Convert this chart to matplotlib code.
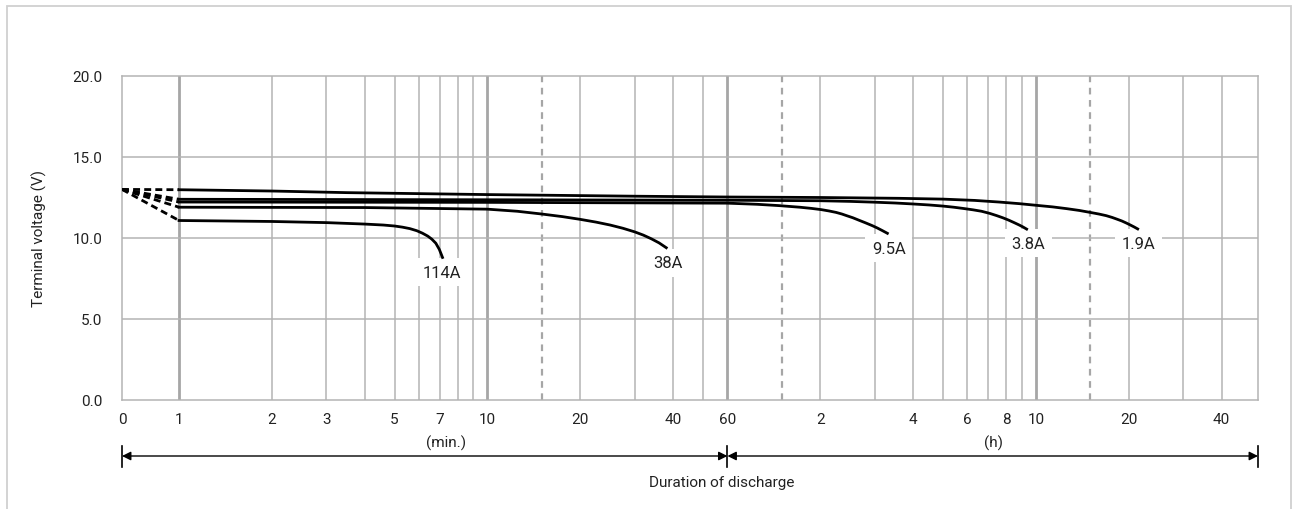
import numpy as np
import matplotlib.pyplot as plt
from matplotlib.patches import Rectangle
from matplotlib.transforms import blended_transform_factory

plt.rcParams['font.family'] = ['Roboto', 'DejaVu Sans']

# discharge curves, time in minutes, voltage in V
t_19 = [1, 2, 3.5, 10, 30, 60, 120, 216, 300, 380, 456, 530, 600, 680, 756, 830,
        900, 960, 1014, 1060, 1100, 1140, 1180, 1215, 1250, 1283]
v_19 = [12.98, 12.9, 12.8, 12.68, 12.58, 12.53, 12.5, 12.45, 12.4, 12.32, 12.22, 12.12,
        12.02, 11.92, 11.81, 11.7, 11.58, 11.48, 11.38, 11.27, 11.16, 11.05, 10.92,
        10.8, 10.68, 10.56]
t_38 = [1, 10, 60, 120, 150, 180, 210, 240, 270, 300, 325, 347, 375, 400, 425, 448,
        470, 490, 510, 530, 545, 560]
v_38 = [12.39, 12.36, 12.33, 12.3, 12.26, 12.21, 12.16, 12.1, 12.04, 11.97, 11.9, 11.83,
        11.74, 11.65, 11.52, 11.38, 11.24, 11.1, 10.95, 10.8, 10.68, 10.55]
t_95 = [1, 10, 60, 75, 88, 103, 112, 121, 128, 135, 141, 146, 153, 160, 168, 177,
        184, 191, 198]
v_95 = [12.22, 12.2, 12.15, 12.08, 12.0, 11.9, 11.83, 11.75, 11.67, 11.58, 11.48, 11.38,
        11.25, 11.1, 10.94, 10.76, 10.61, 10.45, 10.29]
t_380 = [1, 4, 10, 12.5, 15, 17.5, 20, 22.5, 25, 27.5, 30, 32, 34, 36, 38]
v_380 = [11.9, 11.88, 11.78, 11.65, 11.48, 11.32, 11.15, 10.98, 10.8, 10.6, 10.38,
         10.18, 9.95, 9.7, 9.4]
t_1140 = [1, 2, 3, 4, 4.6, 5.0, 5.3, 5.6, 5.9, 6.15, 6.4, 6.6, 6.8, 6.98, 7.15]
v_1140 = [11.08, 11.02, 10.95, 10.86, 10.8, 10.74, 10.67, 10.58, 10.45, 10.3, 10.12,
          9.93, 9.68, 9.3, 8.8]
v_start = 13.0

curve_names = ['1.9A', '3.8A', '9.5A', '38A', '114A']
curve_t = [t_19, t_38, t_95, t_380, t_1140]
curve_v = [v_19, v_38, v_95, v_380, v_1140]
label_x = [1291, 568, 200, 38.6, 7.13]
label_y = [9.69, 9.69, 9.38, 8.46, 7.9]

tick_pos = [0, 1, 2, 3, 5, 7, 10, 20, 40, 60, 120, 240, 360, 480, 600, 1200, 2400]
tick_lab = ['0', '1', '2', '3', '5', '7', '10', '20', '40', '60',
            '2', '4', '6', '8', '10', '20', '40']
grid_minor = [2, 3, 4, 5, 6, 7, 8, 9, 20, 30, 40, 50,
              120, 180, 240, 300, 360, 420, 480, 540, 1200, 1800, 2400]
grid_major = [1, 10, 60, 600]
grid_dash = [15, 90, 900]
x_max = 3150

C = 57 / 308.3  # width of 0..1 min stub, in decades


def fwd(t):
    t = np.asarray(t, dtype=float)
    return np.where(t < 1, (t - 1) * C, np.log10(np.maximum(t, 1)))


def inv(u):
    u = np.asarray(u, dtype=float)
    return np.where(u < 0, u / C + 1, 10 ** np.maximum(u, 0))


fig = plt.figure(figsize=(12.96, 5.1), dpi=100)
ax = fig.add_axes([122 / 1296, 1 - 401 / 510, 1136 / 1296, 324 / 510])
ax.set_xscale('function', functions=(fwd, inv))
ax.set_xlim(0, x_max)
ax.set_ylim(0, 20)

gc = '#b4b4b4'
for x in grid_minor:
    ax.axvline(x, color=gc, lw=1.1, zorder=1)
for x in grid_major:
    ax.axvline(x, color='#a6a6a6', lw=2.0, zorder=1)
for x in grid_dash:
    ax.axvline(x, color='#a6a6a6', lw=1.6, ls=(0, (3, 2.5)), zorder=1)
for y in [5, 10, 15]:
    ax.axhline(y, color=gc, lw=1.1, zorder=1)

for s in ax.spines.values():
    s.set_color(gc)
    s.set_linewidth(1.1)

for name, t, v, lx, ly in zip(curve_names, curve_t, curve_v, label_x, label_y):
    ax.plot([0, t[0]], [v_start, v[0]], color='black', lw=2, ls=(0, (2.5, 1.5)),
            zorder=4, solid_capstyle='butt')
    ax.plot(t, v, color='black', lw=2, zorder=4, solid_joinstyle='round')
    ax.text(lx, ly, name, ha='center', va='center', fontsize=12, color='#222222',
            zorder=3, bbox=dict(boxstyle='square,pad=0.4', fc='white', ec='none'))

ax.set_xticks(tick_pos)
ax.set_xticklabels(tick_lab)
ax.minorticks_off()
ax.set_yticks([0, 5, 10, 15, 20])
ax.set_yticklabels(['0.0', '5.0', '10.0', '15.0', '20.0'])
ax.tick_params(axis='x', length=0, pad=9, labelsize=11, labelcolor='#222222')
ax.tick_params(axis='y', length=0, pad=14, labelsize=11, labelcolor='#222222')
ax.set_ylabel('Terminal voltage (V)', fontsize=11, color='#222222')
ax.yaxis.set_label_coords(-0.066, 0.5)

# duration arrows under the axis
tr = blended_transform_factory(ax.transData, fig.transFigure)
ya = 1 - 457 / 510
for x0, x1 in [(0, 60), (60, x_max)]:
    ax.annotate('', xy=(x0, ya), xytext=(x1, ya), xycoords=tr, textcoords=tr,
                arrowprops=dict(arrowstyle='<|-|>', mutation_scale=13, lw=1,
                                color='black', shrinkA=0, shrinkB=0))
for x in [0, 60, x_max]:
    ax.plot([x, x], [1 - 447 / 510, 1 - 468 / 510], color='black', lw=1.2,
            transform=tr, clip_on=False)
ax.text(7.35, 1 - 443 / 510, '(min.)', transform=tr, ha='center', va='center',
        fontsize=11, color='#222222')
ax.text(437, 1 - 443 / 510, '(h)', transform=tr, ha='center', va='center',
        fontsize=11, color='#222222')
ax.text(57.3, 1 - 483 / 510, 'Duration of discharge', transform=tr, ha='center',
        va='center', fontsize=11, color='#222222')

fig.patches.append(Rectangle((7 / 1296, -0.1), 1284 / 1296, 1.1 - 7 / 510,
                             transform=fig.transFigure, fill=False,
                             ec='#d0d0d0', lw=1.3))

fig.savefig('out.png', dpi=100)
